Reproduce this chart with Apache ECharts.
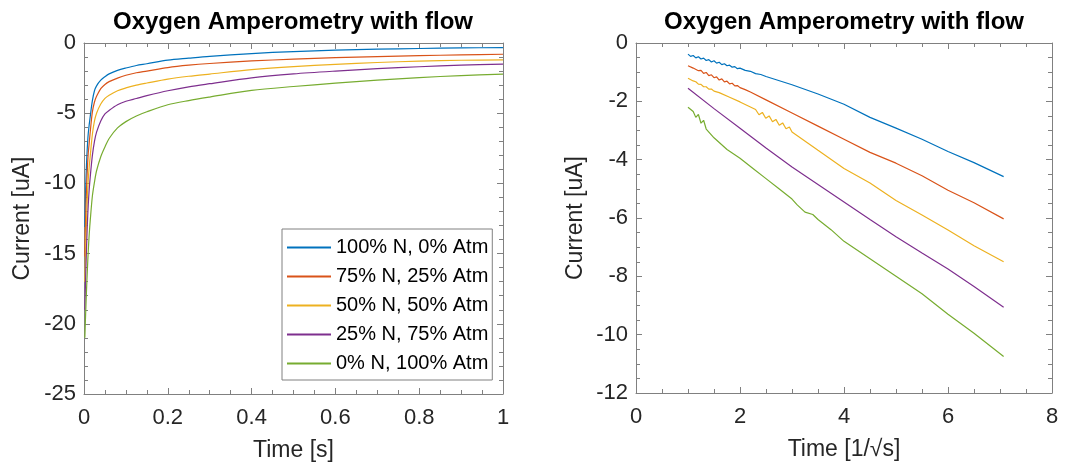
<!DOCTYPE html>
<html><head><meta charset="utf-8">
<script src="https://cdn.jsdelivr.net/npm/echarts@6/dist/echarts.min.js"></script>
<style>html,body{margin:0;padding:0;background:#fff}#c{width:1067px;height:474px}</style>
</head><body><div id="c"></div>
<script>
// ---------- data ----------
const seriesNames = ['100% N, 0% Atm', '75% N, 25% Atm', '50% N, 50% Atm', '25% N, 75% Atm', '0% N, 100% Atm'];
const colors = ['#0072BD', '#D95319', '#EDB120', '#7E2F8E', '#77AC30'];

// left plot: current [uA] vs time [s]
const timeS = [0.002, 0.004, 0.006, 0.008, 0.01, 0.0125, 0.015, 0.02, 0.025, 0.03, 0.04, 0.05, 0.06, 0.08, 0.1, 0.125, 0.15, 0.2, 0.25, 0.3, 0.4, 0.5, 0.6, 0.7, 0.8, 0.9, 1.0];
const leftBlue   = [-13.1, -10.4, -8.6, -7.4, -6.5, -5.8, -5.2, -4.1, -3.4, -3.05, -2.65, -2.4, -2.2, -1.95, -1.78, -1.6, -1.48, -1.22, -1.08, -0.95, -0.75, -0.61, -0.51, -0.44, -0.39, -0.35, -0.33];
const leftRed    = [-15.2, -12.4, -10.4, -9.0, -7.9, -7.1, -6.3, -4.9, -4.2, -3.8, -3.25, -2.95, -2.75, -2.5, -2.3, -2.12, -2.0, -1.75, -1.58, -1.46, -1.28, -1.15, -1.04, -0.97, -0.9, -0.85, -0.8];
const leftYellow = [-17.0, -14.6, -12.6, -11.0, -9.8, -8.8, -8.0, -6.5, -5.55, -5.0, -4.35, -3.95, -3.72, -3.4, -3.2, -3.0, -2.85, -2.57, -2.37, -2.21, -1.9, -1.68, -1.52, -1.39, -1.29, -1.23, -1.2];
const leftPurple = [-19.0, -16.6, -14.6, -12.9, -11.6, -10.4, -9.5, -8.0, -7.0, -6.35, -5.55, -5.05, -4.8, -4.4, -4.15, -3.95, -3.75, -3.4, -3.12, -2.9, -2.48, -2.2, -2.0, -1.83, -1.69, -1.58, -1.51];
const leftGreen  = [-21.0, -19.2, -17.6, -16.2, -14.9, -13.6, -12.6, -10.9, -9.9, -9.1, -8.1, -7.4, -6.8, -6.05, -5.6, -5.2, -4.9, -4.4, -4.1, -3.85, -3.38, -3.1, -2.86, -2.65, -2.46, -2.32, -2.22];

// right plot: current [uA] vs 1/sqrt(s)
const rightBlueX = [1.0, 1.05, 1.1, 1.15, 1.2, 1.25, 1.3, 1.35, 1.4, 1.45, 1.5, 1.55, 1.6, 1.65, 1.7, 1.75, 1.8, 1.85, 1.9, 1.95, 2.0, 2.1, 2.2, 2.3, 2.4, 2.5, 3.0, 3.5, 4.0, 4.5, 5.0, 5.5, 6.0, 6.5, 7.07];
const rightBlue  = [-0.38, -0.46, -0.43, -0.51, -0.47, -0.55, -0.52, -0.60, -0.57, -0.65, -0.61, -0.69, -0.66, -0.74, -0.71, -0.78, -0.76, -0.83, -0.81, -0.88, -0.86, -0.94, -0.97, -1.05, -1.08, -1.15, -1.43, -1.75, -2.1, -2.55, -2.92, -3.3, -3.72, -4.1, -4.58];
const rightRedX  = [1.0, 1.1, 1.2, 1.25, 1.3, 1.35, 1.4, 1.45, 1.5, 1.55, 1.6, 1.65, 1.7, 1.75, 1.8, 1.85, 1.9, 1.95, 2.0, 2.1, 2.2, 2.5, 3.0, 3.5, 4.0, 4.5, 5.0, 5.5, 6.0, 6.5, 7.07];
const rightRed   = [-0.78, -0.86, -0.95, -0.94, -1.04, -1.01, -1.12, -1.09, -1.19, -1.16, -1.27, -1.23, -1.33, -1.31, -1.40, -1.38, -1.47, -1.46, -1.53, -1.6, -1.68, -1.95, -2.4, -2.85, -3.3, -3.75, -4.12, -4.55, -5.05, -5.48, -6.03];
const rightYellowX = [1.0, 1.1, 1.15, 1.2, 1.25, 1.3, 1.35, 1.4, 1.45, 1.5, 1.6, 1.8, 2.0, 2.15, 2.3, 2.365, 2.43, 2.495, 2.56, 2.625, 2.69, 2.755, 2.82, 2.885, 2.95, 3.0, 3.5, 4.0, 4.5, 5.0, 5.5, 6.0, 6.5, 7.07];
const rightYellow  = [-1.21, -1.30, -1.33, -1.41, -1.42, -1.50, -1.50, -1.58, -1.58, -1.65, -1.70, -1.86, -2.02, -2.15, -2.28, -2.46, -2.38, -2.58, -2.50, -2.70, -2.62, -2.82, -2.74, -2.94, -2.88, -3.05, -3.68, -4.3, -4.8, -5.4, -5.9, -6.41, -6.95, -7.5];
const rightPurpleX = [1, 1.5, 2, 2.5, 3, 3.5, 4, 4.5, 5, 5.5, 6, 6.5, 7.07];
const rightPurple  = [-1.55, -2.25, -2.92, -3.6, -4.25, -4.85, -5.45, -6.05, -6.64, -7.2, -7.75, -8.35, -9.06];
const rightGreenX = [1.0, 1.1, 1.15, 1.2, 1.25, 1.3, 1.35, 1.5, 1.75, 2.0, 2.25, 2.5, 2.75, 3.0, 3.1, 3.25, 3.4, 3.5, 3.75, 4.0, 4.5, 5.0, 5.5, 6.0, 6.5, 7.07];
const rightGreen  = [-2.2, -2.35, -2.55, -2.45, -2.75, -2.65, -2.95, -3.25, -3.65, -3.95, -4.3, -4.65, -5.0, -5.35, -5.55, -5.8, -5.88, -6.05, -6.4, -6.8, -7.4, -8.0, -8.6, -9.3, -9.95, -10.75];

const titleText = 'Oxygen Amperometry with flow';
const leftXName = 'Time [s]';
const rightXName = 'Time [1/\u221As]';
const yName = 'Current [uA]';

// ---------- chart ----------
const FONT = '"Liberation Sans", Arial, Helvetica, sans-serif';
const axisColor = '#808080';
const textColor = '#262626';

function pairs(xs, ys) { return xs.map((x, i) => [x, ys[i]]); }

function axisPair(kind, gridIndex, min, max, interval, split, name, nameGap, labelMargin) {
  const isX = kind === 'x';
  const base = {
    type: 'value', gridIndex, min, max, interval,
    axisLine: { show: true, onZero: false, lineStyle: { color: axisColor, width: 1 } },
    axisTick: { show: true, inside: true, length: 6, lineStyle: { color: axisColor, width: 1 } },
    minorTick: { show: true, splitNumber: split, length: 4, lineStyle: { color: axisColor, width: 1 } },
    splitLine: { show: false }, minorSplitLine: { show: false }
  };
  const main = Object.assign({}, base, {
    position: isX ? 'bottom' : 'left',
    axisLabel: { show: true, color: textColor, fontSize: 22, fontFamily: FONT, margin: labelMargin, showMinLabel: true, showMaxLabel: true },
    name, nameLocation: 'middle', nameGap,
    nameTextStyle: { color: textColor, fontSize: 23, fontFamily: FONT }
  });
  const mirror = Object.assign({}, base, {
    position: isX ? 'top' : 'right',
    axisLabel: { show: false }
  });
  return [main, mirror];
}

const xAxes = [
  ...axisPair('x', 0, 0, 1, 0.2, 4, leftXName, 45, 13),
  ...axisPair('x', 1, 0, 8, 2, 4, rightXName, 45, 13)
];
const yAxes = [
  ...axisPair('y', 0, -25, 0, 5, 5, yName, 50, 8),
  ...axisPair('y', 1, -12, 0, 2, 4, yName, 49, 8)
];

const leftSets = [leftBlue, leftRed, leftYellow, leftPurple, leftGreen];
const rightSets = [
  pairs(rightBlueX, rightBlue), pairs(rightRedX, rightRed), pairs(rightYellowX, rightYellow),
  pairs(rightPurpleX, rightPurple), pairs(rightGreenX, rightGreen)
];

const series = [];
leftSets.forEach((ys, i) => series.push({
  name: seriesNames[i], type: 'line', xAxisIndex: 0, yAxisIndex: 0,
  data: pairs(timeS, ys), showSymbol: false, smooth: 0.3,
  lineStyle: { color: colors[i], width: 1.2 }, itemStyle: { color: colors[i] }
}));
rightSets.forEach((d, i) => series.push({
  name: seriesNames[i], type: 'line', xAxisIndex: 2, yAxisIndex: 2,
  data: d, showSymbol: false,
  lineStyle: { color: colors[i], width: 1.2 }, itemStyle: { color: colors[i] }
}));

const option = {
  animation: false,
  backgroundColor: '#fff',
  grid: [
    { left: 84, top: 43, width: 419, height: 351, containLabel: false },
    { left: 636, top: 43, width: 416, height: 350, containLabel: false }
  ],
  xAxis: xAxes,
  yAxis: yAxes,
  legend: {
    orient: 'vertical', left: 282, top: 229,
    padding: [8, 4, 6, 5], itemGap: 8, itemWidth: 44, itemHeight: 2,
    icon: 'rect',
    borderColor: '#808080', borderWidth: 1, backgroundColor: '#fff',
    textStyle: { color: '#000', fontSize: 20, lineHeight: 21, fontFamily: FONT },
    data: seriesNames
  },
  graphic: [
    { type: 'text', x: 293, y: 22, style: { text: titleText, fill: '#000', font: 'bold 24px ' + FONT, textAlign: 'center', textVerticalAlign: 'middle' } },
    { type: 'text', x: 844, y: 22, style: { text: titleText, fill: '#000', font: 'bold 24px ' + FONT, textAlign: 'center', textVerticalAlign: 'middle' } }
  ],
  series
};

const chart = echarts.init(document.getElementById('c'), null, { renderer: 'canvas' });
chart.setOption(option);
</script>
</body></html>
